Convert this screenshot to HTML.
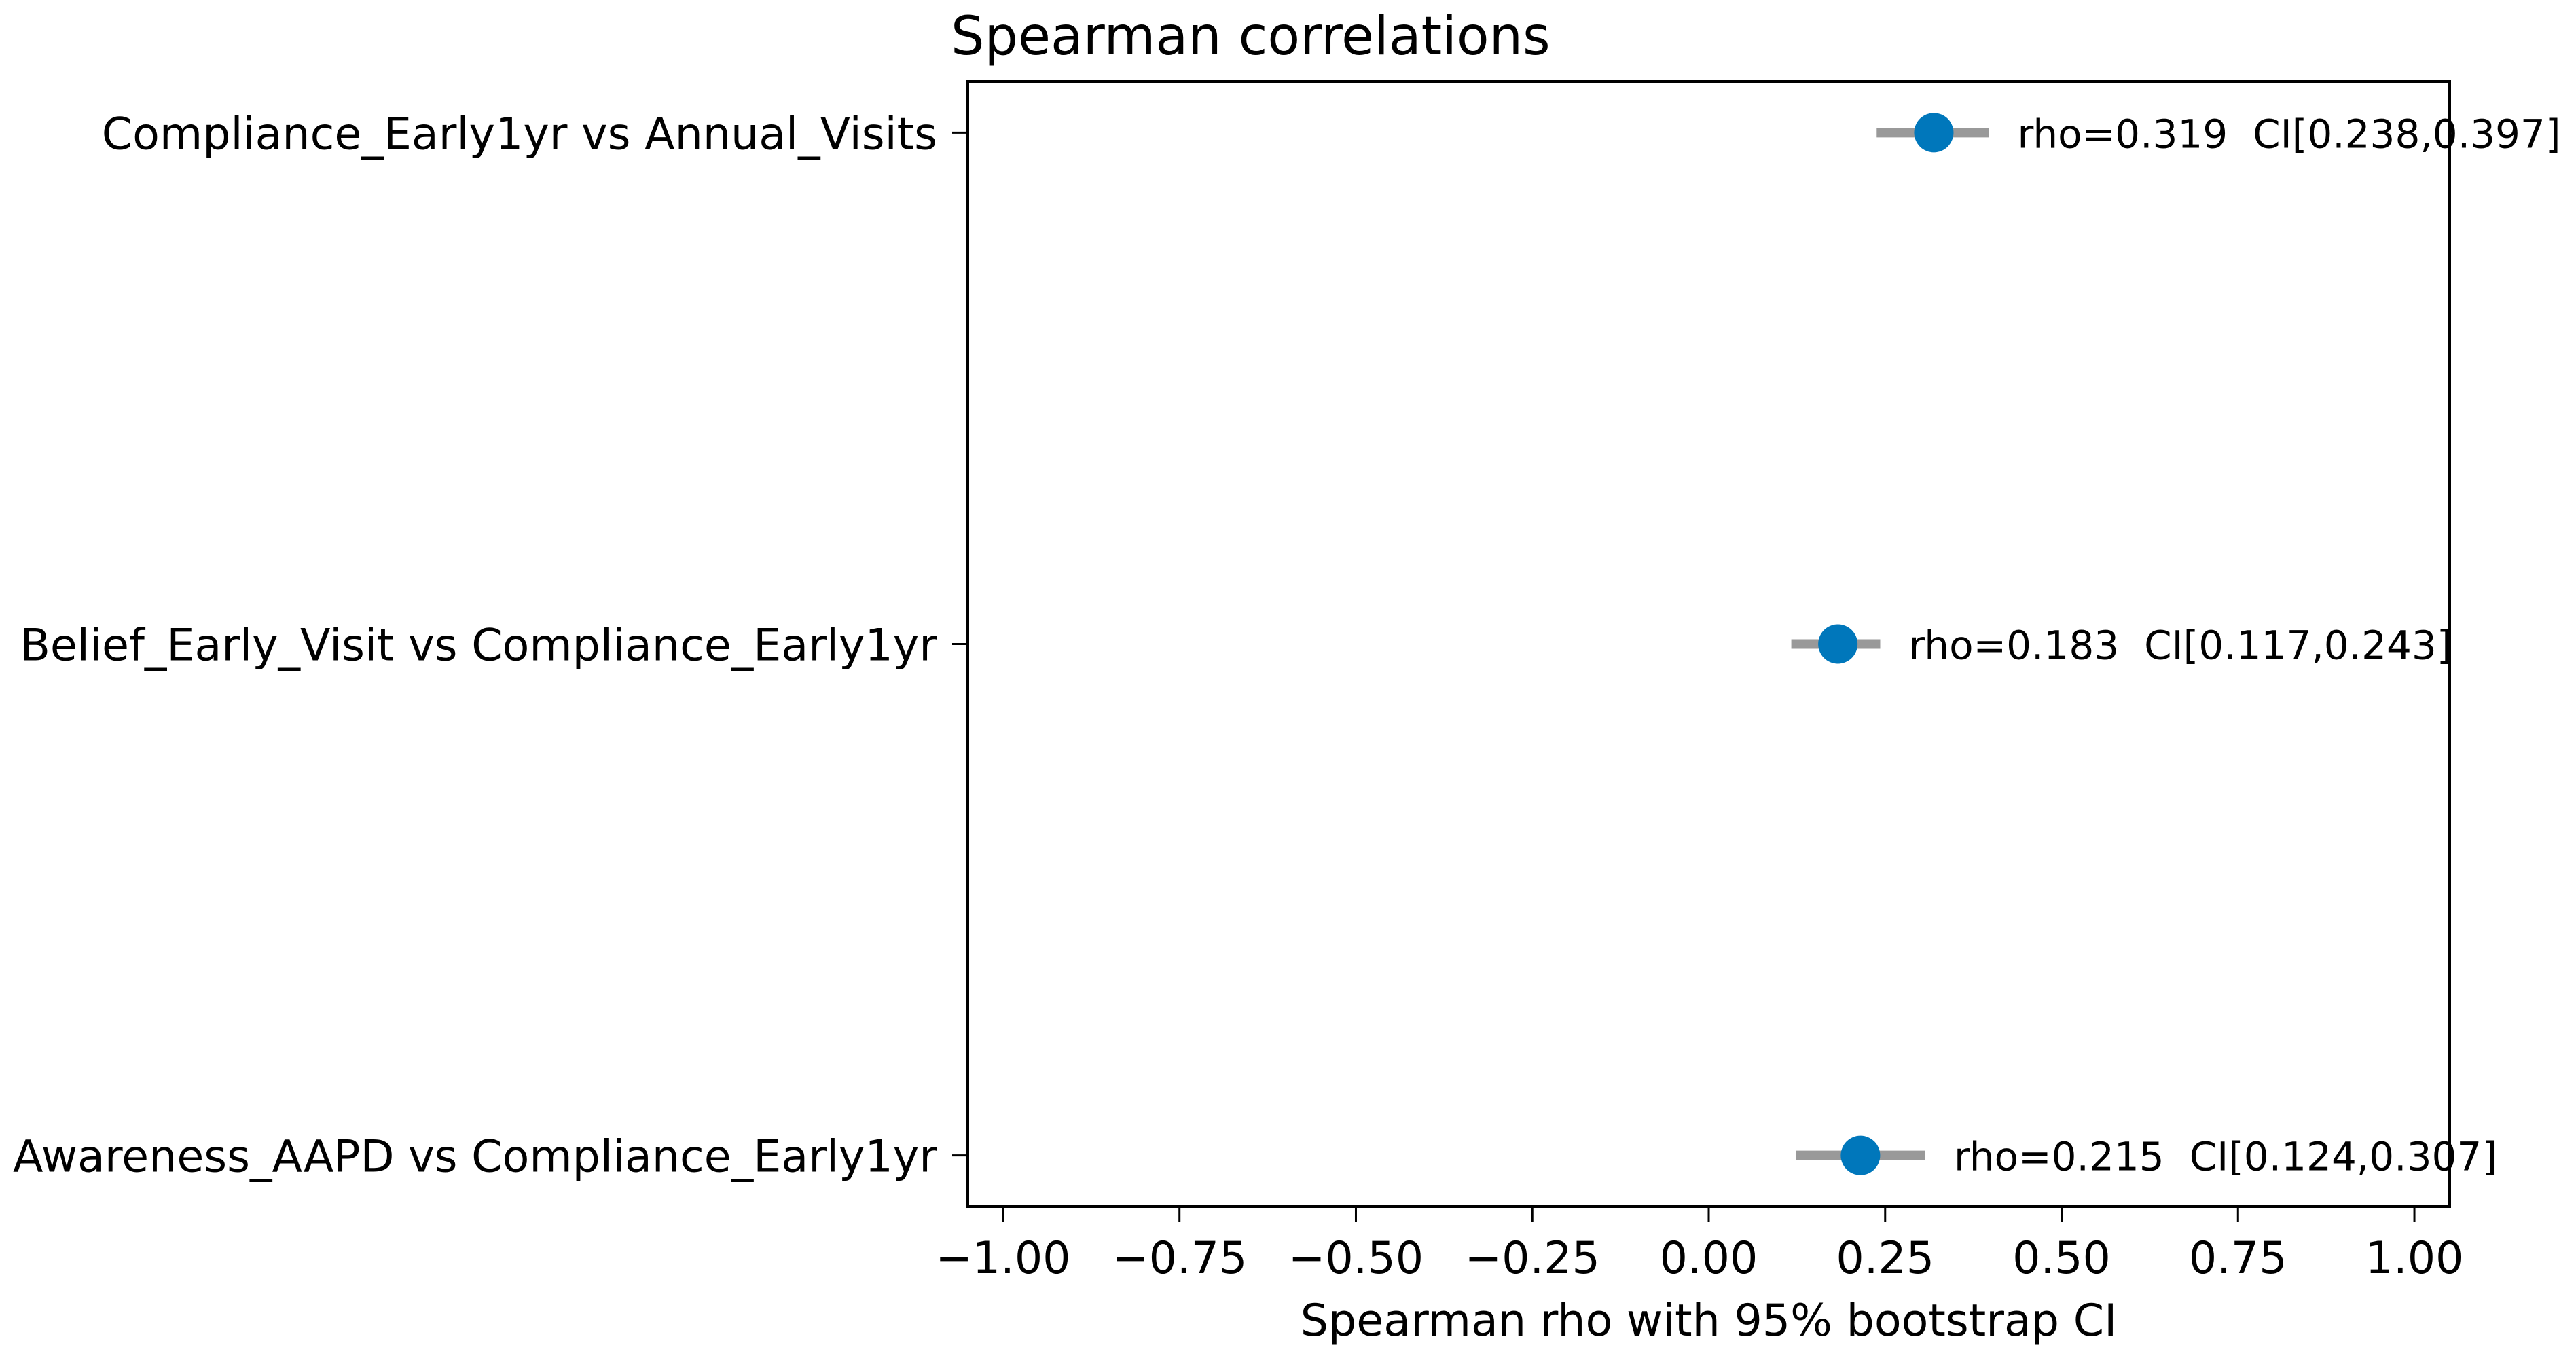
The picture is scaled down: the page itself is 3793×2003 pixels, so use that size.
<!DOCTYPE html>
<html><head><meta charset="utf-8"><style>
html,body{margin:0;padding:0;background:#fff;}
svg{display:block;font-family:"DejaVu Sans","Liberation Sans",sans-serif;}
</style></head><body>
<svg id="chart" width="3793" height="2003" viewBox="0 0 3793 2003" xmlns="http://www.w3.org/2000/svg">
<rect width="3793" height="2003" fill="#fff"/>
<text x="1400" y="80" font-size="78" fill="#000">Spearman correlations</text>
<g id="plot"></g>
<rect x="1425" y="120" width="2182" height="1657" fill="none" stroke="#000" stroke-width="4"/>
<text x="2516" y="1967" font-size="65" text-anchor="middle" fill="#000">Spearman rho with 95% bootstrap CI</text>
</svg>
<script>
const labels = ["Compliance_Early1yr vs Annual_Visits","Belief_Early_Visit vs Compliance_Early1yr","Awareness_AAPD vs Compliance_Early1yr"];
const rho = [0.319, 0.183, 0.215];
const ciLow = [0.238, 0.117, 0.124];
const ciHigh = [0.397, 0.243, 0.307];
const xTicks = [-1, -0.75, -0.5, -0.25, 0, 0.25, 0.5, 0.75, 1];
const xTickLabels = ["\u22121.00","\u22120.75","\u22120.50","\u22120.25","0.00","0.25","0.50","0.75","1.00"];

const NS = "http://www.w3.org/2000/svg";
const L = 1425, R = 3607, T = 120, B = 1777;
const xMin = -1.05, xMax = 1.05;
function xs(v){ return L + (v - xMin) / (xMax - xMin) * (R - L); }
function ys(i){ const n = labels.length; return T + (i + 0.1) / (n - 1 + 0.2) * (B - T); }
const g = document.getElementById('plot');
function mk(tag, attrs){ const e = document.createElementNS(NS, tag); for (const k in attrs) e.setAttribute(k, attrs[k]); g.appendChild(e); return e; }

xTicks.forEach((v, i) => {
  const t = mk('line', {x1: xs(v), x2: xs(v), y1: B, y2: B + 23, stroke: '#000', 'stroke-width': 3});
  
  
  const tl = mk('text', {x: xs(v), y: 1875, 'font-size': 65, 'text-anchor': 'middle', fill: '#000'});
  tl.textContent = xTickLabels[i];
  
  
});

labels.forEach((lab, i) => {
  const y = ys(i);
  const t = mk('line', {x1: L - 23, x2: L, y1: y, y2: y, stroke: '#000', 'stroke-width': 3});
  
  
  const tl = mk('text', {x: L - 45, y: y + 24, 'font-size': 65, 'text-anchor': 'end', fill: '#000'});
  tl.textContent = lab;
  
  
  const ci = mk('line', {x1: xs(ciLow[i]), x2: xs(ciHigh[i]), y1: y, y2: y, stroke: '#999999', 'stroke-width': 14});
  
  
  const pt = mk('circle', {cx: xs(rho[i]), cy: y, r: 29, fill: '#0077bb'});
  
  
  const an = mk('text', {x: xs(ciHigh[i]) + 42, y: y + 22, 'font-size': 58, fill: '#000'});
  an.setAttribute('xml:space', 'preserve');
  an.style.whiteSpace = 'pre';
  an.textContent = 'rho=' + rho[i].toFixed(3) + '  CI[' + ciLow[i].toFixed(3) + ',' + ciHigh[i].toFixed(3) + ']';
  
  
});
</script>
</body></html>
